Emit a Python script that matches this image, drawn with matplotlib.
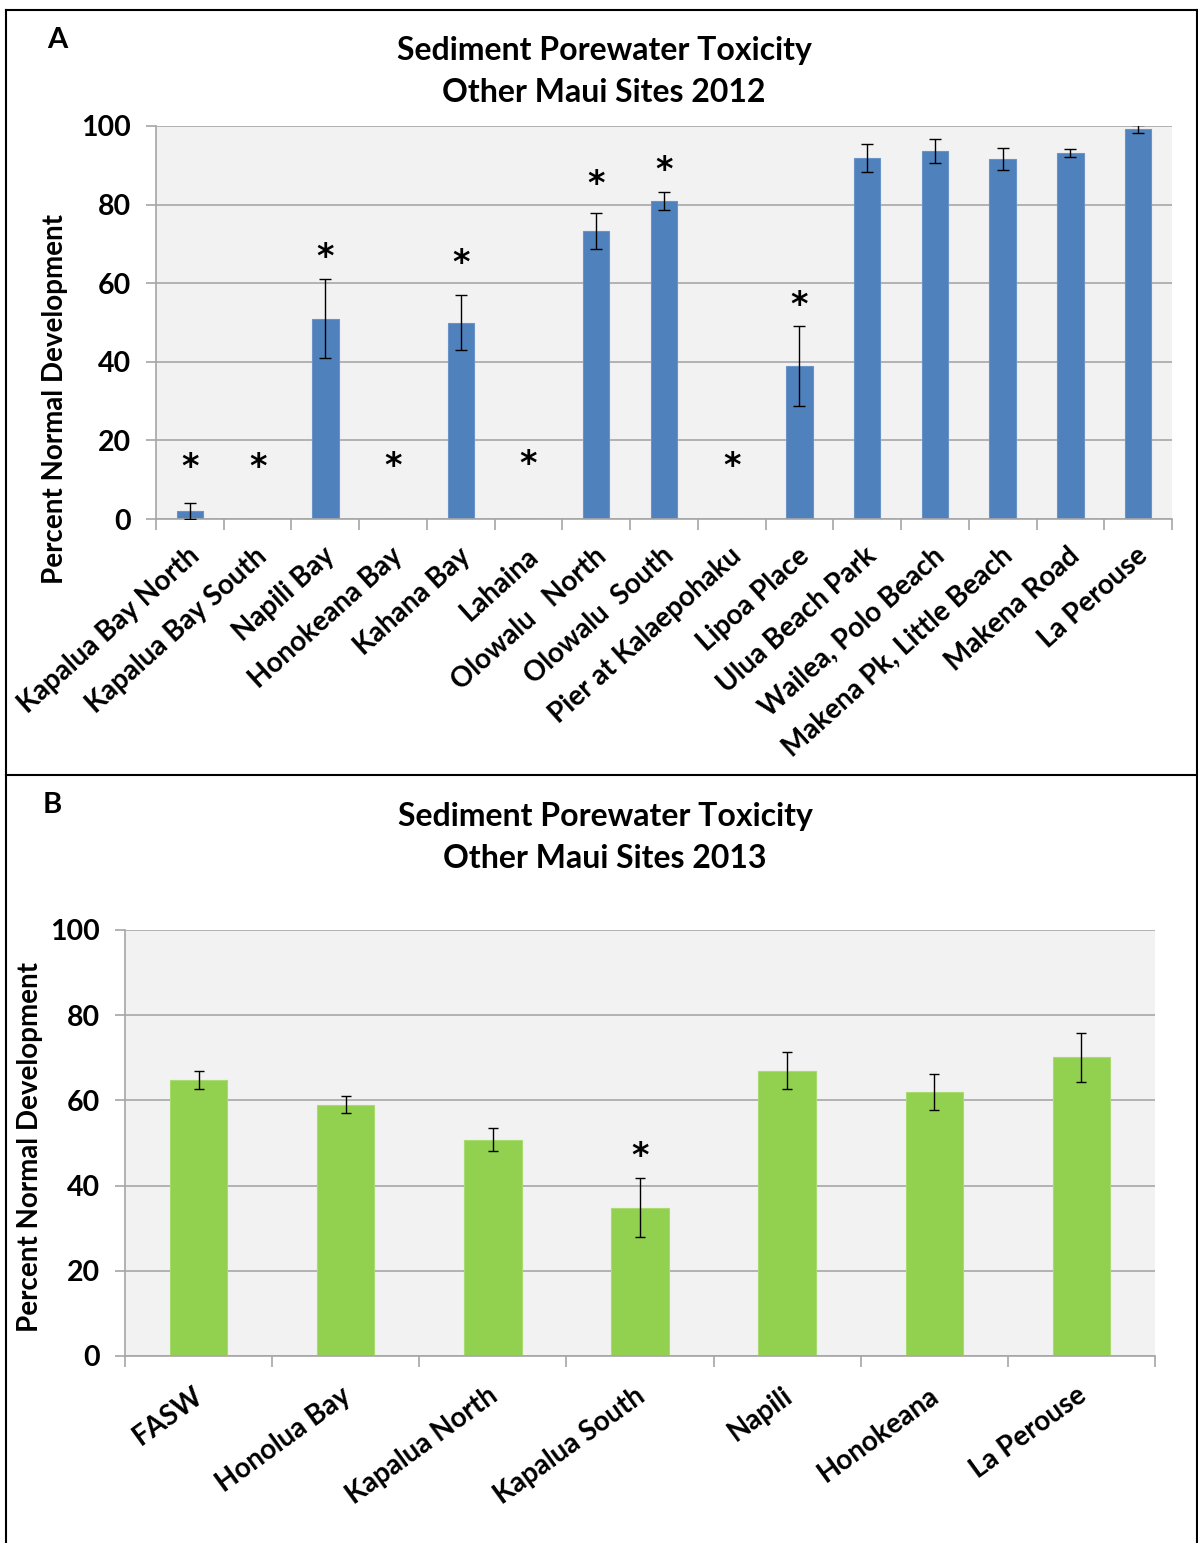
import matplotlib
matplotlib.use("Agg")
import matplotlib.pyplot as plt
import numpy as np
from matplotlib.lines import Line2D

plt.rcParams['font.family'] = ['Lato', 'DejaVu Sans']
plt.rcParams['font.weight'] = 'bold'

# ---- Panel A data (2012) ----
sites_2012 = ["Kapalua Bay North", "Kapalua Bay South", "Napili Bay", "Honokeana Bay",
              "Kahana Bay", "Lahaina", "Olowalu   North", "Olowalu  South",
              "Pier at Kalaepohaku", "Lipoa Place", "Ulua Beach Park", "Wailea, Polo Beach",
              "Makena Pk, Little Beach", "Makena Road", "La Perouse"]
values_2012 = [2.0, 0, 51.0, 0, 50.0, 0, 73.2, 80.9, 0, 38.9, 91.9, 93.7, 91.7, 93.1, 99.2]
errors_2012 = [2.0, 0, 10.0, 0, 7.1, 0, 4.6, 2.3, 0, 10.1, 3.6, 3.0, 2.8, 1.0, 1.0]
stars_2012 = [15.2, 15.2, 68.6, 15.5, 67.0, 15.8, 87.2, 90.6, 15.5, 56.4, None, None, None, None, None]

# ---- Panel B data (2013) ----
sites_2013 = ["FASW", "Honolua Bay", "Kapalua North", "Kapalua South", "Napili", "Honokeana", "La Perouse"]
values_2013 = [64.8, 59.0, 50.8, 34.8, 67.0, 61.9, 70.1]
errors_2013 = [2.2, 2.0, 2.7, 6.9, 4.4, 4.2, 5.8]
stars_2013 = [None, None, None, 48.3, None, None, None]

W, H = 1198, 1543
fig = plt.figure(figsize=(W/100, H/100), dpi=100)

BG = '#F2F2F2'
GRID = '#A0A0A0'
STAR_FONT = ['DejaVu Sans']


def setup(ax, n, ymax=100):
    ax.set_facecolor(BG)
    ax.set_xlim(-0.5, n - 0.5)
    ax.set_ylim(0, ymax)
    ax.set_yticks(np.arange(0, 101, 20))
    ax.yaxis.grid(True, color=GRID, linewidth=1.1)
    ax.set_axisbelow(True)
    for s in ['top', 'right']:
        ax.spines[s].set_visible(False)
    for s in ['left', 'bottom']:
        ax.spines[s].set_color('#A6A6A6')
        ax.spines[s].set_linewidth(1.2)
    ax.set_xticks(np.arange(-0.5, n, 1.0))
    ax.set_xticklabels([])
    ax.tick_params(axis='x', length=8, color='#A6A6A6', width=1.2)
    ax.tick_params(axis='y', length=7, color='#A6A6A6', width=1.2, labelsize=20.5, pad=11)
    for lab in ax.get_yticklabels():
        lab.set_fontweight('bold')


def star(ax, xi, s, off):
    ax.annotate('*', xy=(xi, s), xytext=(0, off), textcoords='offset points', ha='center', va='center',
                fontsize=24, fontweight='bold', family=STAR_FONT)


# Panel A
axA = fig.add_axes([156/W, 1 - 519/H, (1172-156)/W, (519-126)/H])
n = len(sites_2012)
x = np.arange(n)
setup(axA, n)
axA.bar(x, values_2012, width=0.39, color='#4F81BD', edgecolor='#6A93C8', linewidth=0.8, zorder=2)
for xi, v, e in zip(x, values_2012, errors_2012):
    if e > 0:
        axA.errorbar(xi, v, yerr=e, fmt='none', ecolor='black', elinewidth=1.0,
                     capsize=4, capthick=1.0, zorder=3)
for xi, s in zip(x, stars_2012):
    if s is not None:
        star(axA, xi, s, -5.8)
for xi, lab in zip(x, sites_2012):
    axA.annotate(lab, xy=(xi, 0), xycoords=('data', 'axes fraction'),
                 xytext=(-2, -17), textcoords='offset points', rotation=42,
                 ha='right', va='top', rotation_mode='anchor', fontsize=20, fontweight='bold')
fig.text(55/W, 1 - 399/H, 'Percent Normal Development', rotation=90, ha='center', va='center',
         fontsize=20, fontweight='bold')
fig.text(604/W, 1 - 71.5/H, 'Sediment Porewater Toxicity\nOther Maui Sites 2012', ha='center',
         va='center', fontsize=23, fontweight='bold', linespacing=1.52)
fig.text(57/W, 1 - 40/H, 'A', ha='center', va='center', fontsize=21, fontweight='bold')

# Panel B
axB = fig.add_axes([125/W, 1 - 1356/H, (1155-125)/W, (1356-930)/H])
m = len(sites_2013)
xb = np.arange(m)
setup(axB, m)
axB.bar(xb, values_2013, width=0.39, color='#92D050', edgecolor='#A8DC70', linewidth=0.8, zorder=2)
for xi, v, e in zip(xb, values_2013, errors_2013):
    axB.errorbar(xi, v, yerr=e, fmt='none', ecolor='black', elinewidth=1.0,
                 capsize=3.6, capthick=1.0, zorder=3)
for xi, s in zip(xb, stars_2013):
    if s is not None:
        star(axB, xi, s, -4.5)
for xi, lab in zip(xb, sites_2013):
    axB.annotate(lab, xy=(xi, 0), xycoords=('data', 'axes fraction'),
                 xytext=(-4, -19), textcoords='offset points', rotation=36,
                 ha='right', va='top', rotation_mode='anchor', fontsize=20, fontweight='bold')
fig.text(30/W, 1 - 1147/H, 'Percent Normal Development', rotation=90, ha='center', va='center',
         fontsize=20, fontweight='bold')
fig.text(605/W, 1 - 837.5/H, 'Sediment Porewater Toxicity\nOther Maui Sites 2013', ha='center',
         va='center', fontsize=23, fontweight='bold', linespacing=1.52)
fig.text(52/W, 1 - 805/H, 'B', ha='center', va='center', fontsize=21, fontweight='bold')

# Panel borders
lines = [((6, 6), (10, 1543)), ((6, 1198), (10, 10)), ((6, 1198), (775, 775)), ((1197, 1197), (10, 1543))]
for xs, ys in lines:
    fig.add_artist(Line2D([xx/W for xx in xs], [1 - yy/H for yy in ys], color='black', linewidth=1.5,
                          transform=fig.transFigure))

fig.savefig('out.png', dpi=100)
